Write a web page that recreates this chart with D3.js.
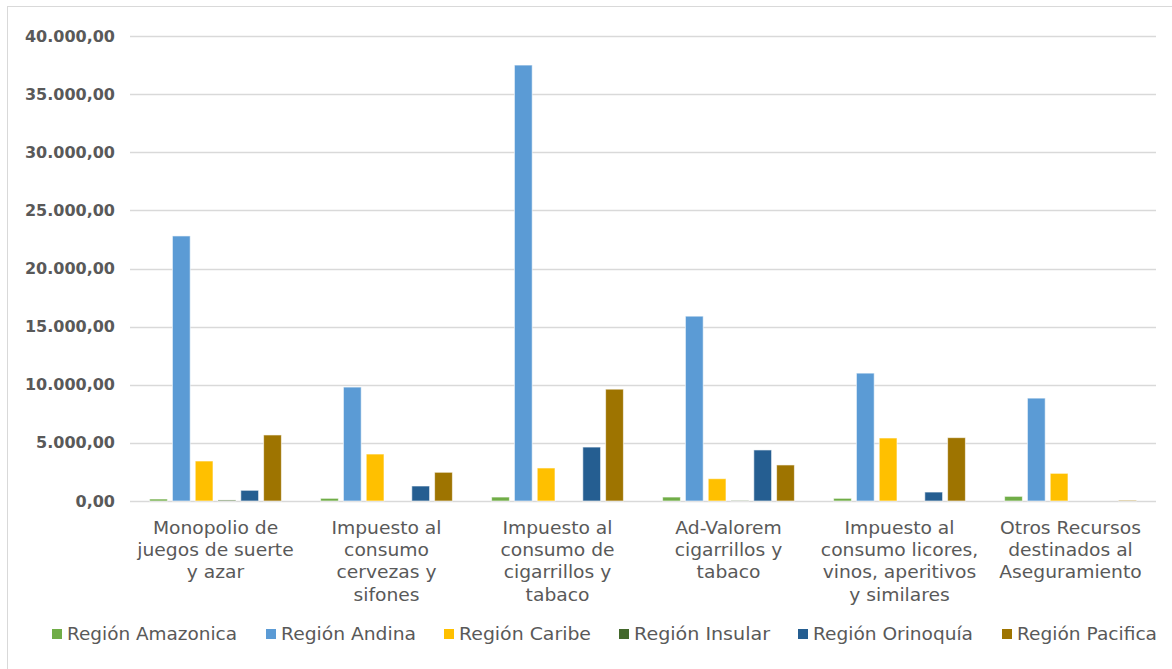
<!DOCTYPE html>
<html>
<head>
    <meta charset="utf-8">
    <script src="https://d3js.org/d3.v7.min.js"></script>
    <style>
        body { margin: 0; background: #fff; }
        svg { display: block; font-family: "DejaVu Sans", Verdana, sans-serif; }
    </style>
</head>
<body>
    <svg id="chart" width="1172" height="669"></svg>

    <script>
        // Categories (x axis)
        const categories = [
            ["Monopolio de", "juegos de suerte", "y azar"],
            ["Impuesto al", "consumo", "cervezas y", "sifones"],
            ["Impuesto al", "consumo de", "cigarrillos y", "tabaco"],
            ["Ad-Valorem", "cigarrillos y", "tabaco"],
            ["Impuesto al", "consumo licores,", "vinos, aperitivos", "y similares"],
            ["Otros Recursos", "destinados al", "Aseguramiento"]
        ];

        // Series
        const seriesNames = ["Región Amazonica", "Región Andina", "Región Caribe", "Región Insular", "Región Orinoquía", "Región Pacifica"];
        const amazonica = [170, 230, 340, 340, 230, 400];
        const andina    = [22800, 9800, 37500, 15900, 11000, 8850];
        const caribe    = [3440, 4040, 2840, 1920, 5420, 2380];
        const insular   = [90, 0, 0, 30, 0, 0];
        const orinoquia = [920, 1290, 4640, 4390, 770, 0];
        const pacifica  = [5680, 2470, 9620, 3100, 5450, 60];
        const seriesValues = [amazonica, andina, caribe, insular, orinoquia, pacifica];
        const colors = ["#70ad47", "#5b9bd5", "#ffc000", "#43682b", "#255e91", "#9e7400"];

        const yTicks = [0, 5000, 10000, 15000, 20000, 25000, 30000, 35000, 40000];

        const svg = d3.select("#chart");

        // outer chart border
        svg.append("rect")
            .attr("x", 7.5).attr("y", 6.5)
            .attr("width", 1180).attr("height", 680)
            .attr("fill", "none").attr("stroke", "#d9d9d9").attr("stroke-width", 1);

        const plotLeft = 130, plotRight = 1156, plotTop = 36, plotBottom = 501;

        const y = d3.scaleLinear().domain([0, 40000]).range([plotBottom, plotTop]);
        const x0 = d3.scaleBand().domain(d3.range(categories.length)).range([plotLeft, plotRight]).padding(0);
        const x1 = d3.scaleBand().domain(d3.range(seriesNames.length))
            .range([0, x0.bandwidth()]).paddingInner(0.22).paddingOuter(0.86);

        const fmt = v => {
            const s = d3.format(",.2f")(v);
            return s.replace(/,/g, "#").replace(".", ",").replace(/#/g, ".");
        };

        // gridlines
        svg.append("g").selectAll("line")
            .data(yTicks)
            .join("line")
            .attr("x1", plotLeft).attr("x2", plotRight)
            .attr("y1", d => Math.round(y(d)) + 0.5).attr("y2", d => Math.round(y(d)) + 0.5)
            .attr("stroke", "#d9d9d9").attr("stroke-width", 1.3);

        // y labels
        svg.append("g").selectAll("text")
            .data(yTicks)
            .join("text")
            .attr("x", 115)
            .attr("y", d => y(d) + 5.5)
            .attr("text-anchor", "end")
            .attr("font-size", 16)
            .attr("font-weight", "bold")
            .attr("fill", "#595959")
            .text(fmt);

        // bars
        const groups = svg.append("g").selectAll("g")
            .data(categories.map((c, i) => i))
            .join("g")
            .attr("transform", i => `translate(${x0(i)},0)`);

        groups.selectAll("rect")
            .data(i => seriesValues.map((vals, s) => ({ s: s, v: vals[i] })).filter(d => d.v > 0))
            .join("rect")
            .attr("x", d => x1(d.s))
            .attr("width", x1.bandwidth())
            .attr("y", d => y(d.v))
            .attr("height", d => plotBottom - y(d.v))
            .attr("fill", d => colors[d.s])
            .attr("stroke", "#fff")
            .attr("stroke-opacity", 0.6)
            .attr("stroke-width", 1);

        // category labels (text is a little stretched horizontally in the original)
        const catLabels = svg.append("g").selectAll("text")
            .data(categories)
            .join("text")
            .attr("transform", (d, i) => `translate(${x0(i) + x0.bandwidth() / 2},534) scale(1.1,1)`)
            .attr("text-anchor", "middle")
            .attr("font-size", 17)
            .attr("fill", "#595959");
        catLabels.selectAll("tspan")
            .data(d => d)
            .join("tspan")
            .attr("x", 0)
            .attr("dy", (d, i) => i === 0 ? 0 : 22.2)
            .text(d => d);

        // legend
        const legendX = [52, 266, 444, 619, 798, 1002];
        const legendW = [170, 135, 132, 136, 160, 140];
        const legend = svg.append("g").selectAll("g")
            .data(seriesNames)
            .join("g")
            .attr("transform", (d, i) => `translate(${legendX[i]},634)`);
        legend.append("rect")
            .attr("x", 0).attr("y", -5)
            .attr("width", 10).attr("height", 10)
            .attr("fill", (d, i) => colors[i]);
        legend.append("text")
            .attr("x", 15).attr("y", 6)
            .attr("font-size", 17.5)
            .attr("textLength", (d, i) => legendW[i])
            .attr("lengthAdjust", "spacingAndGlyphs")
            .attr("fill", "#595959")
            .text(d => d);
    </script>
</body>
</html>
